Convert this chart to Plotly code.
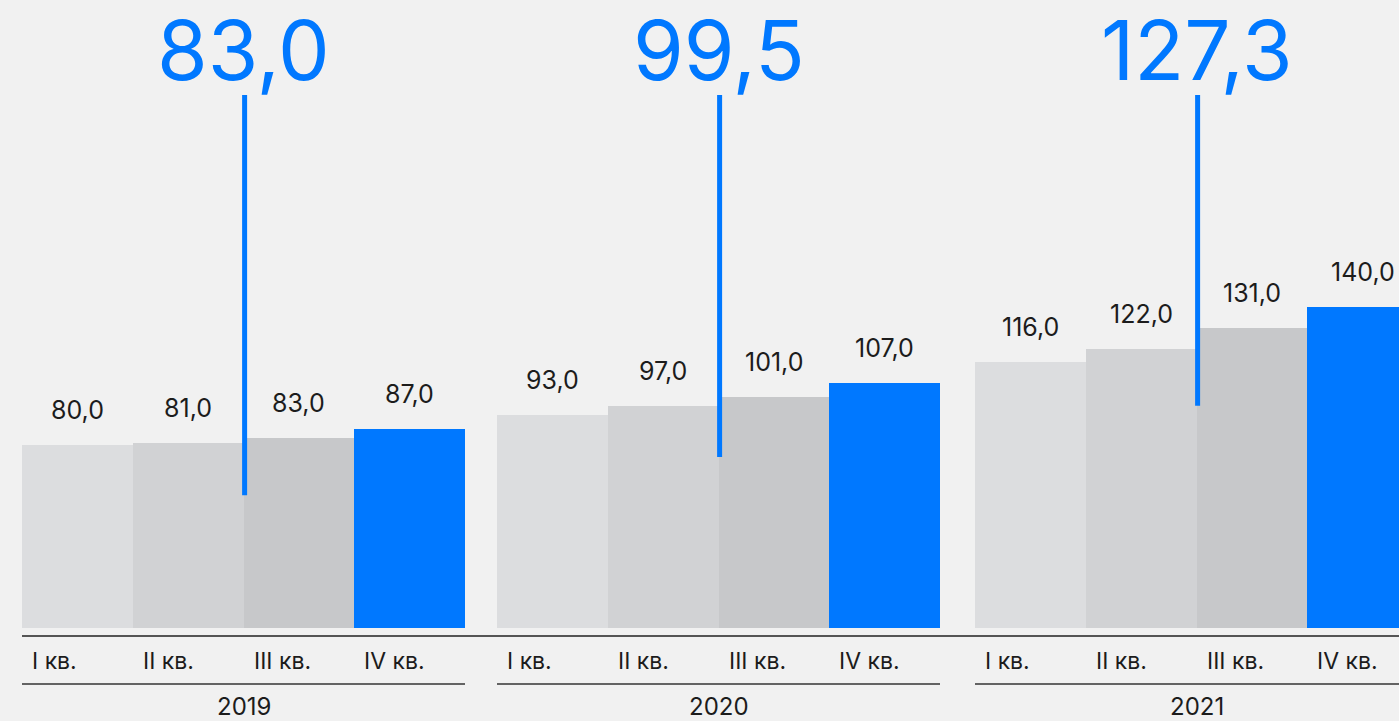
import plotly.graph_objects as go

# ---------------- data ----------------
years = ["2019", "2020", "2021"]
quarters = ["I кв.", "II кв.", "III кв.", "IV кв."]
q1 = [80.0, 93.0, 116.0]
q2 = [81.0, 97.0, 122.0]
q3 = [83.0, 101.0, 131.0]
q4 = [87.0, 107.0, 140.0]
averages = [83.0, 99.5, 127.3]
avg_line_bottom = [58.0, 74.7, 97.0]

# ---------------- styling / layout ----------------
W, H = 1399, 721
BG = "#F1F1F1"
BLUE = "#0078FF"
TEXT = "#1C1C1C"
bar_colors = ["#DCDDDF", "#D1D2D4", "#C7C8CA", BLUE]
FONT = "Inter"

BAR_PX = 110.75          # pixel width of one bar (one x unit)
LEFT_PX = 22             # left edge of first bar
GROUP_LEFT_PX = [22, 497, 975]   # left edge of each year group (layout)
ZERO_PX = 628            # pixel row of value 0
PX_PER_UNIT = 2.29       # pixels per value unit

x_min = -LEFT_PX / BAR_PX
x_max = (W - LEFT_PX) / BAR_PX
y_min = (ZERO_PX - H) / PX_PER_UNIT
y_max = ZERO_PX / PX_PER_UNIT


def py(px):
    """pixel row -> y data value"""
    return (ZERO_PX - px) / PX_PER_UNIT


def px_x(px):
    """pixel column -> x data value"""
    return (px - LEFT_PX) / BAR_PX


group_start = [px_x(p) for p in GROUP_LEFT_PX]
series = [q1, q2, q3, q4]

fig = go.Figure()

for qi, vals in enumerate(series):
    fig.add_trace(go.Bar(
        x=[s + qi + 0.5 for s in group_start],
        y=vals,
        width=1.0,
        marker=dict(color=bar_colors[qi], line=dict(width=0)),
        hoverinfo="skip",
        showlegend=False,
    ))

annotations = []
shapes = []

# value labels
for qi, vals in enumerate(series):
    for gi, v in enumerate(vals):
        annotations.append(dict(
            x=group_start[gi] + qi + 0.5, y=v, xref="x", yref="y",
            text=f"{v:.1f}".replace(".", ","), showarrow=False,
            yanchor="middle", yshift=35,
            font=dict(family=FONT, size=25, color=TEXT),
        ))

# average vertical lines and big numbers
top_val = py(95)
for gi, a in enumerate(averages):
    cx = group_start[gi] + 2 + 0.01
    fig.add_trace(go.Scatter(
        x=[cx, cx], y=[avg_line_bottom[gi], top_val], mode="lines",
        line=dict(color=BLUE, width=5), hoverinfo="skip", showlegend=False,
    ))
    annotations.append(dict(
        x=group_start[gi] + 2, y=py(50), xref="x", yref="y",
        text=f"{a:.1f}".replace(".", ","), showarrow=False,
        xanchor="center", yanchor="middle",
        font=dict(family=FONT, size=82, color=BLUE),
    ))

# axis lines
shapes.append(dict(type="line", xref="x", yref="y",
                   x0=0, x1=x_max, y0=py(636), y1=py(636),
                   line=dict(color="#555555", width=2)))
for gi, yr in enumerate(years):
    s = group_start[gi]
    shapes.append(dict(type="line", xref="x", yref="y",
                       x0=s, x1=min(s + 4, x_max), y0=py(684), y1=py(684),
                       line=dict(color="#333333", width=1.5)))
    for qi, q in enumerate(quarters):
        annotations.append(dict(
            x=s + qi, y=py(661), xref="x", yref="y", text=q, showarrow=False,
            xanchor="left", yanchor="middle", xshift=8,
            font=dict(family=FONT, size=23, color=TEXT),
        ))
    annotations.append(dict(
        x=s + 2, y=py(706), xref="x", yref="y", text=yr, showarrow=False,
        xanchor="center", yanchor="middle",
        font=dict(family=FONT, size=24, color=TEXT),
    ))

fig.update_layout(
    width=W, height=H,
    margin=dict(l=0, r=0, t=0, b=0),
    paper_bgcolor=BG, plot_bgcolor=BG,
    barmode="overlay", bargap=0,
    xaxis=dict(range=[x_min, x_max], visible=False, fixedrange=True),
    yaxis=dict(range=[y_min, y_max], visible=False, fixedrange=True),
    annotations=annotations, shapes=shapes,
    font=dict(family=FONT, color=TEXT),
)

fig.write_html(
    "out.html",
    config={"displayModeBar": False},
    post_script="document.body.style.margin='0px';document.body.style.overflow='hidden';document.body.style.background='%s';" % BG,
)
